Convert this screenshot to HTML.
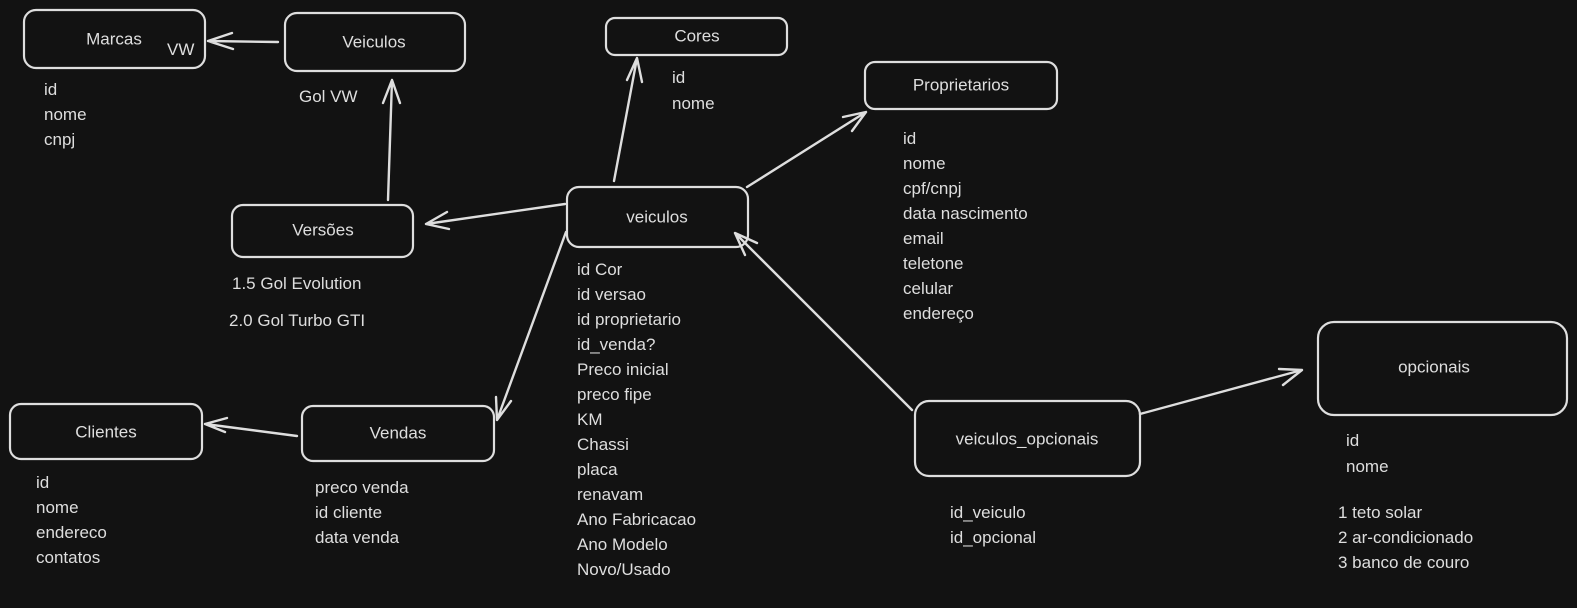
<!DOCTYPE html>
<html><head><meta charset="utf-8"><style>
html,body{margin:0;padding:0;background:#121212;}
svg{display:block}
text{font-family:"Liberation Sans","DejaVu Sans",sans-serif;font-size:17px;fill:#dedede;}
.c{text-anchor:middle;dominant-baseline:central}
rect{fill:none;stroke:#dedede;stroke-width:2.2}
path{fill:none;stroke:#dedede;stroke-width:2.4;stroke-linecap:round;stroke-linejoin:round}
</style></head><body>
<svg width="1577" height="608" viewBox="0 0 1577 608" xmlns="http://www.w3.org/2000/svg">
<rect width="1577" height="608" style="fill:#121212;stroke:none"/>
<!-- boxes -->
<rect x="24" y="10" width="181" height="58" rx="12"/>
<text class="c" x="114" y="39">Marcas</text><text x="167" y="55">VW</text>
<rect x="285" y="13" width="180" height="58" rx="12"/>
<text class="c" x="374" y="42">Veiculos</text>
<rect x="606" y="18" width="181" height="37" rx="9"/>
<text class="c" x="697" y="36">Cores</text>
<rect x="865" y="62" width="192" height="47" rx="10"/>
<text class="c" x="961" y="85">Proprietarios</text>
<rect x="567" y="187" width="181" height="60" rx="12"/>
<text class="c" x="657" y="217">veiculos</text>
<rect x="232" y="205" width="181" height="52" rx="11"/>
<text class="c" x="323" y="230">Versões</text>
<rect x="10" y="404" width="192" height="55" rx="11"/>
<text class="c" x="106" y="432">Clientes</text>
<rect x="302" y="406" width="192" height="55" rx="11"/>
<text class="c" x="398" y="433">Vendas</text>
<rect x="915" y="401" width="225" height="75" rx="14"/>
<text class="c" x="1027" y="439">veiculos_opcionais</text>
<rect x="1318" y="322" width="249" height="93" rx="16"/>
<text class="c" x="1434" y="367">opcionais</text>
<!-- lists -->
<text x="44" y="95">id</text><text x="44" y="120">nome</text><text x="44" y="145">cnpj</text>
<text x="299" y="102">Gol VW</text>
<text x="672" y="83">id</text><text x="672" y="109">nome</text>
<g>
<text x="903" y="144">id</text><text x="903" y="169">nome</text><text x="903" y="194">cpf/cnpj</text><text x="903" y="219">data nascimento</text><text x="903" y="244">email</text><text x="903" y="269">teletone</text><text x="903" y="294">celular</text><text x="903" y="319">endereço</text>
</g>
<g>
<text x="577" y="275">id Cor</text><text x="577" y="300">id versao</text><text x="577" y="325">id proprietario</text><text x="577" y="350">id_venda?</text><text x="577" y="375">Preco inicial</text><text x="577" y="400">preco fipe</text><text x="577" y="425">KM</text><text x="577" y="450">Chassi</text><text x="577" y="475">placa</text><text x="577" y="500">renavam</text><text x="577" y="525">Ano Fabricacao</text><text x="577" y="550">Ano Modelo</text><text x="577" y="575">Novo/Usado</text>
</g>
<text x="232" y="289">1.5 Gol Evolution</text>
<text x="229" y="326">2.0 Gol Turbo GTI</text>
<text x="36" y="488">id</text><text x="36" y="513">nome</text><text x="36" y="538">endereco</text><text x="36" y="563">contatos</text>
<text x="315" y="493">preco venda</text><text x="315" y="518">id cliente</text><text x="315" y="543">data venda</text>
<text x="950" y="518">id_veiculo</text><text x="950" y="543">id_opcional</text>
<text x="1346" y="446">id</text><text x="1346" y="472">nome</text>
<text x="1338" y="518">1 teto solar</text><text x="1338" y="543">2 ar-condicionado</text><text x="1338" y="568">3 banco de couro</text>
<!-- arrows -->
<path d="M278 42 L208 41 M232 33 L208 41 L233 49"/>
<path d="M388 200 L392 80 M383 103 L392 80 L400 103"/>
<path d="M614 181 L637 58 M627 80 L637 58 L642 82"/>
<path d="M747 187 L866 112 M843 117 L866 112 L852 131"/>
<path d="M565 204 L426 224 M447 212 L426 224 L449 229"/>
<path d="M566 232 L497 420 M496 397 L497 420 L511 401"/>
<path d="M297 436 L205 424 M227 418 L205 424 L225 432"/>
<path d="M912 410 L735 233 M745 255 L735 233 L757 243"/>
<path d="M1140 414 L1302 370 M1279 369 L1302 370 L1283 385"/>
</svg>
</body></html>
